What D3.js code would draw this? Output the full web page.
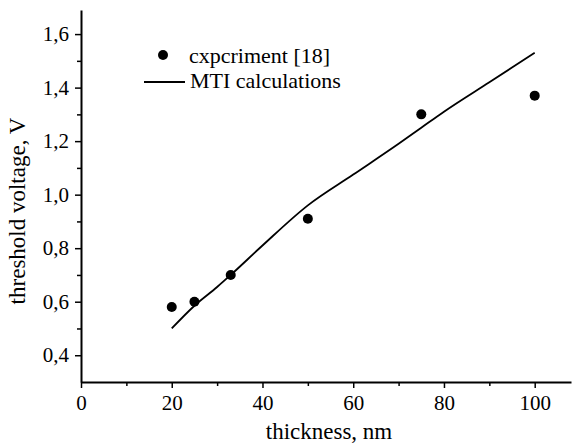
<!DOCTYPE html>
<html>
<head>
<meta charset="utf-8">
<script src="https://cdn.jsdelivr.net/npm/d3@7"></script>
<style>
  body { margin: 0; background: #fff; }
</style>
</head>
<body>
<svg id="chart" width="572" height="443" font-family="Liberation Serif"></svg>
<script>
// experiment points [18]
const expThickness = [20, 25, 33, 50, 75, 100];
const expVoltage = [0.58, 0.60, 0.70, 0.91, 1.30, 1.37];

// MTI calculations curve
const mtiThickness = [20, 25, 30, 33, 40, 50, 60, 70, 75, 80, 90, 100];
const mtiVoltage = [0.50, 0.585, 0.655, 0.70, 0.81, 0.96, 1.075, 1.19, 1.25, 1.31, 1.42, 1.53];

const xTicks = [0, 20, 40, 60, 80, 100];
const xMinor = [10, 30, 50, 70, 90];
const yTicks = [0.4, 0.6, 0.8, 1.0, 1.2, 1.4, 1.6];
const yMinor = [0.5, 0.7, 0.9, 1.1, 1.3, 1.5];

const serif = "Liberation Serif";

const svg = d3.select("#chart");

const x = d3.scaleLinear().domain([0, 108]).range([81, 571]);
const y = d3.scaleLinear().domain([0.3, 1.69]).range([382, 10]);

const fmt = v => d3.format(".1f")(v).replace(".", ",");

// minor ticks
svg.append("g")
    .attr("transform", `translate(0, ${y(0.3)})`)
    .call(d3.axisBottom(x).tickValues(xMinor).tickSize(4).tickFormat(""))
    .call(g => g.select(".domain").remove())
    .selectAll("line").attr("stroke-width", 1.5);

svg.append("g")
    .attr("transform", `translate(${x(0)}, 0)`)
    .call(d3.axisLeft(y).tickValues(yMinor).tickSize(4).tickFormat(""))
    .call(g => g.select(".domain").remove())
    .selectAll("line").attr("stroke-width", 1.5);

// major axes
const xAxis = svg.append("g")
    .attr("transform", `translate(0, ${y(0.3)})`)
    .call(d3.axisBottom(x).tickValues(xTicks).tickSize(6).tickSizeOuter(0).tickPadding(7))
    .attr("font-family", serif).attr("font-size", 21);
xAxis.select(".domain").attr("stroke-width", 2);
xAxis.selectAll("line").attr("stroke-width", 1.5);

const yAxis = svg.append("g")
    .attr("transform", `translate(${x(0)}, 0)`)
    .call(d3.axisLeft(y).tickValues(yTicks).tickSize(6).tickSizeOuter(0).tickPadding(6).tickFormat(fmt))
    .attr("font-family", serif).attr("font-size", 21);
yAxis.select(".domain").attr("stroke-width", 2);
yAxis.selectAll("line").attr("stroke-width", 1.5);

// axis titles
svg.append("text")
    .attr("x", 329).attr("y", 439)
    .attr("text-anchor", "middle")
    .attr("font-family", serif).attr("font-size", 23)
    .text("thickness, nm");

svg.append("text")
    .attr("transform", "translate(25, 211) rotate(-90)")
    .attr("text-anchor", "middle")
    .attr("font-family", serif).attr("font-size", 23)
    .text("threshold voltage, V");

// calculated curve
const line = d3.line()
    .x((d, i) => x(mtiThickness[i]))
    .y(d => y(d))
    .curve(d3.curveMonotoneX);

svg.append("path")
    .datum(mtiVoltage)
    .attr("fill", "none")
    .attr("stroke", "#000")
    .attr("stroke-width", 1.8)
    .attr("d", line);

// experiment points
svg.selectAll("circle.exp")
    .data(expVoltage)
    .join("circle")
    .attr("class", "exp")
    .attr("cx", (d, i) => x(expThickness[i]))
    .attr("cy", d => y(d))
    .attr("r", 5)
    .attr("fill", "#000");

// legend
const legend = svg.append("g");
legend.append("circle").attr("cx", 163).attr("cy", 55).attr("r", 5).attr("fill", "#000");
legend.append("text").attr("x", 189).attr("y", 63)
    .attr("font-family", serif).attr("font-size", 22).text("cxpcriment [18]");
legend.append("line").attr("x1", 144).attr("x2", 185).attr("y1", 82).attr("y2", 82)
    .attr("stroke", "#000").attr("stroke-width", 2);
legend.append("text").attr("x", 190).attr("y", 88)
    .attr("font-family", serif).attr("font-size", 22).text("MTI calculations");
</script>
</body>
</html>
